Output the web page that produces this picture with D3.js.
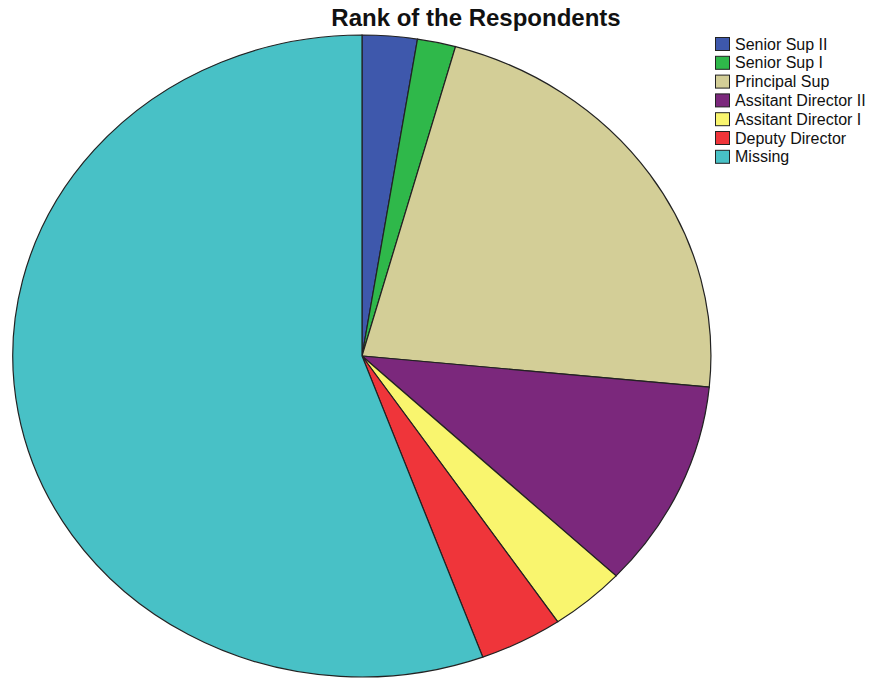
<!DOCTYPE html>
<html><head><meta charset="utf-8">
<script src="https://cdn.jsdelivr.net/npm/d3@7"></script>
<style>body{margin:0;background:#fff}svg{display:block}</style>
</head><body>
<script>
const categories = ["Senior Sup II","Senior Sup I","Principal Sup","Assitant Director II","Assitant Director I","Deputy Director","Missing"];
const percents = [2.54, 1.77, 22.23, 10.48, 3.50, 3.86, 55.62];
const colors = ["#3e58ac","#2fb84a","#d3ce97","#7b287c","#f9f56e","#ef353a","#48c1c6"];
const title = "Rank of the Respondents";

const W = 870, H = 681;
const svg = d3.select("body").append("svg").attr("width", W).attr("height", H);

const cx = 362, cy = 356, rx = 349, ry = 321;
const data = categories.map((c,i)=>({name:c, value:percents[i], color:colors[i]}));
const pie = d3.pie().value(d=>d.value).sort(null);
const arc = d3.arc().innerRadius(0).outerRadius(1);

const g = svg.append("g").attr("transform", `translate(${cx},${cy}) scale(${rx},${ry})`);
g.selectAll("path").data(pie(data)).join("path")
  .attr("d", arc)
  .attr("fill", d=>d.data.color)
  .attr("stroke", "#222")
  .attr("stroke-width", 1.2)
  .attr("vector-effect", "non-scaling-stroke");

svg.append("text").attr("x", 476).attr("y", 26).attr("text-anchor","middle")
  .attr("font-family","Liberation Sans, Arial, sans-serif").attr("font-weight","bold")
  .attr("font-size", 24).attr("fill","#111").text(title);

const lg = svg.append("g").attr("transform","translate(715,37)");
const rows = lg.selectAll("g").data(data).join("g").attr("transform",(d,i)=>`translate(0,${i*18.8})`);
rows.append("rect").attr("x",0.5).attr("y",0.5).attr("width",14).attr("height",13)
  .attr("fill",d=>d.color).attr("stroke","#222").attr("stroke-width",1);
rows.append("text").attr("x",20).attr("y",12.5)
  .attr("font-family","Liberation Sans, Arial, sans-serif").attr("font-size",16).attr("fill","#111")
  .text(d=>d.name);
</script>
</body></html>
